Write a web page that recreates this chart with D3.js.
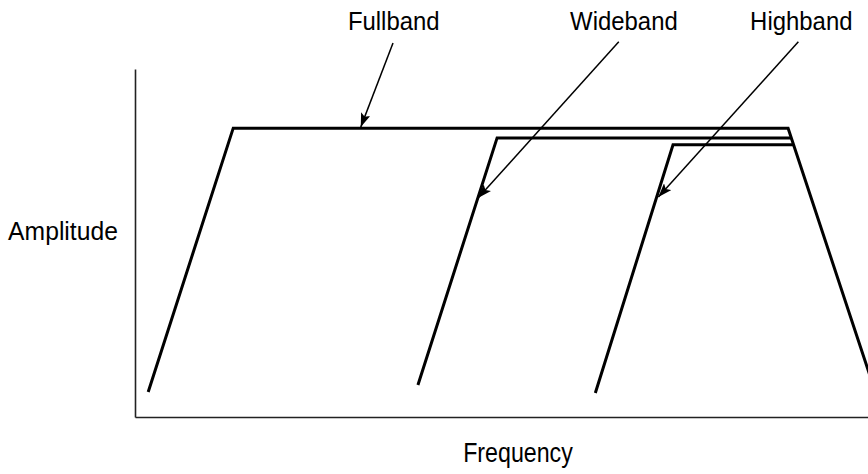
<!DOCTYPE html>
<html>
<head>
<meta charset="utf-8">
<script src="https://cdn.jsdelivr.net/npm/d3@7/dist/d3.min.js"></script>
<style>
  html, body { margin: 0; padding: 0; background: #fff; }
  svg { display: block; }
  text { font-family: "Liberation Sans", Arial, Helvetica, sans-serif; fill: #000; }
</style>
</head>
<body>
<svg id="chart" width="868" height="474"></svg>
<script>
// ---- data (frequency / amplitude in arbitrary units, 0..100) ----
const bands = ["Fullband", "Wideband", "Highband"];
const fullbandFreq = [1.8, 13.4, 89.1, 101.0];
const fullbandAmp  = [7.2, 83.0, 83.0, 7.2];
const widebandFreq = [38.6, 49.4, 89.5];
const widebandAmp  = [9.2, 80.2, 80.2];
const highbandFreq = [62.8, 73.4, 89.8];
const highbandAmp  = [6.9, 78.2, 78.2];
// label anchor (freq, amp) and arrow start -> tip in data units
const labelFreq = [35.3, 66.7, 90.9];
const labelAmp  = [111.2, 111.2, 111.2];
const arrowFromFreq = [35.2, 66.0, 90.5];
const arrowFromAmp  = [107.5, 107.8, 107.8];
const arrowToFreq   = [30.8, 46.8, 71.4];
const arrowToAmp    = [83.3, 62.9, 63.2];
const xTitle = "Frequency";
const yTitle = "Amplitude";

const series = [
  { name: bands[0], f: fullbandFreq, a: fullbandAmp },
  { name: bands[1], f: widebandFreq, a: widebandAmp },
  { name: bands[2], f: highbandFreq, a: highbandAmp }
];

const svg = d3.select("#chart");
const W = 868, H = 474;
const x = d3.scaleLinear().domain([0, 100]).range([135, 868]);
const y = d3.scaleLinear().domain([0, 100]).range([417, 69]);

// axes (no ticks, just the axis lines)
svg.append("g")
  .attr("transform", `translate(0,${y(0)})`)
  .call(d3.axisBottom(x).tickValues([]).tickSizeOuter(0))
  .call(g => g.select(".domain").attr("stroke", "#222").attr("stroke-width", 1.6));
svg.append("g")
  .attr("transform", `translate(${x(0)},0)`)
  .call(d3.axisLeft(y).tickValues([]).tickSizeOuter(0))
  .call(g => g.select(".domain").attr("stroke", "#222").attr("stroke-width", 1.6));

// band outlines
const line = d3.line().x(d => x(d[0])).y(d => y(d[1]));
svg.append("g").selectAll("path")
  .data(series)
  .join("path")
  .attr("d", s => line(s.f.map((v, i) => [v, s.a[i]])))
  .attr("fill", "none")
  .attr("stroke", "#000")
  .attr("stroke-width", 3)
  .attr("stroke-linejoin", "miter");

// arrow marker
svg.append("defs").append("marker")
  .attr("id", "arrow")
  .attr("markerUnits", "userSpaceOnUse")
  .attr("viewBox", "0 0 14 10")
  .attr("refX", 14).attr("refY", 5)
  .attr("markerWidth", 14).attr("markerHeight", 10)
  .attr("orient", "auto")
  .append("path")
  .attr("d", "M0,0 L14,5 L0,10 L3,5 Z")
  .attr("fill", "#000");

// annotation arrows and labels
const ann = bands.map((b, i) => ({
  name: b,
  lx: x(labelFreq[i]), ly: y(labelAmp[i]),
  x1: x(arrowFromFreq[i]), y1: y(arrowFromAmp[i]),
  x2: x(arrowToFreq[i]), y2: y(arrowToAmp[i])
}));
svg.append("g").selectAll("line")
  .data(ann)
  .join("line")
  .attr("x1", d => d.x1).attr("y1", d => d.y1)
  .attr("x2", d => d.x2).attr("y2", d => d.y2)
  .attr("stroke", "#000")
  .attr("stroke-width", 1.5)
  .attr("marker-end", "url(#arrow)");

svg.append("g").selectAll("text")
  .data(ann)
  .join("text")
  .attr("transform", d => `translate(${d.lx},${d.ly}) scale(0.92,1)`)
  .attr("text-anchor", "middle")
  .attr("font-size", 26)
  .text(d => d.name);

// axis titles
svg.append("text")
  .attr("transform", `translate(518,462) scale(0.86,1)`)
  .attr("text-anchor", "middle")
  .attr("font-size", 27)
  .text(xTitle);
svg.append("text")
  .attr("transform", `translate(63,240) scale(0.95,1)`)
  .attr("text-anchor", "middle")
  .attr("font-size", 26)
  .text(yTitle);
</script>
</body>
</html>
